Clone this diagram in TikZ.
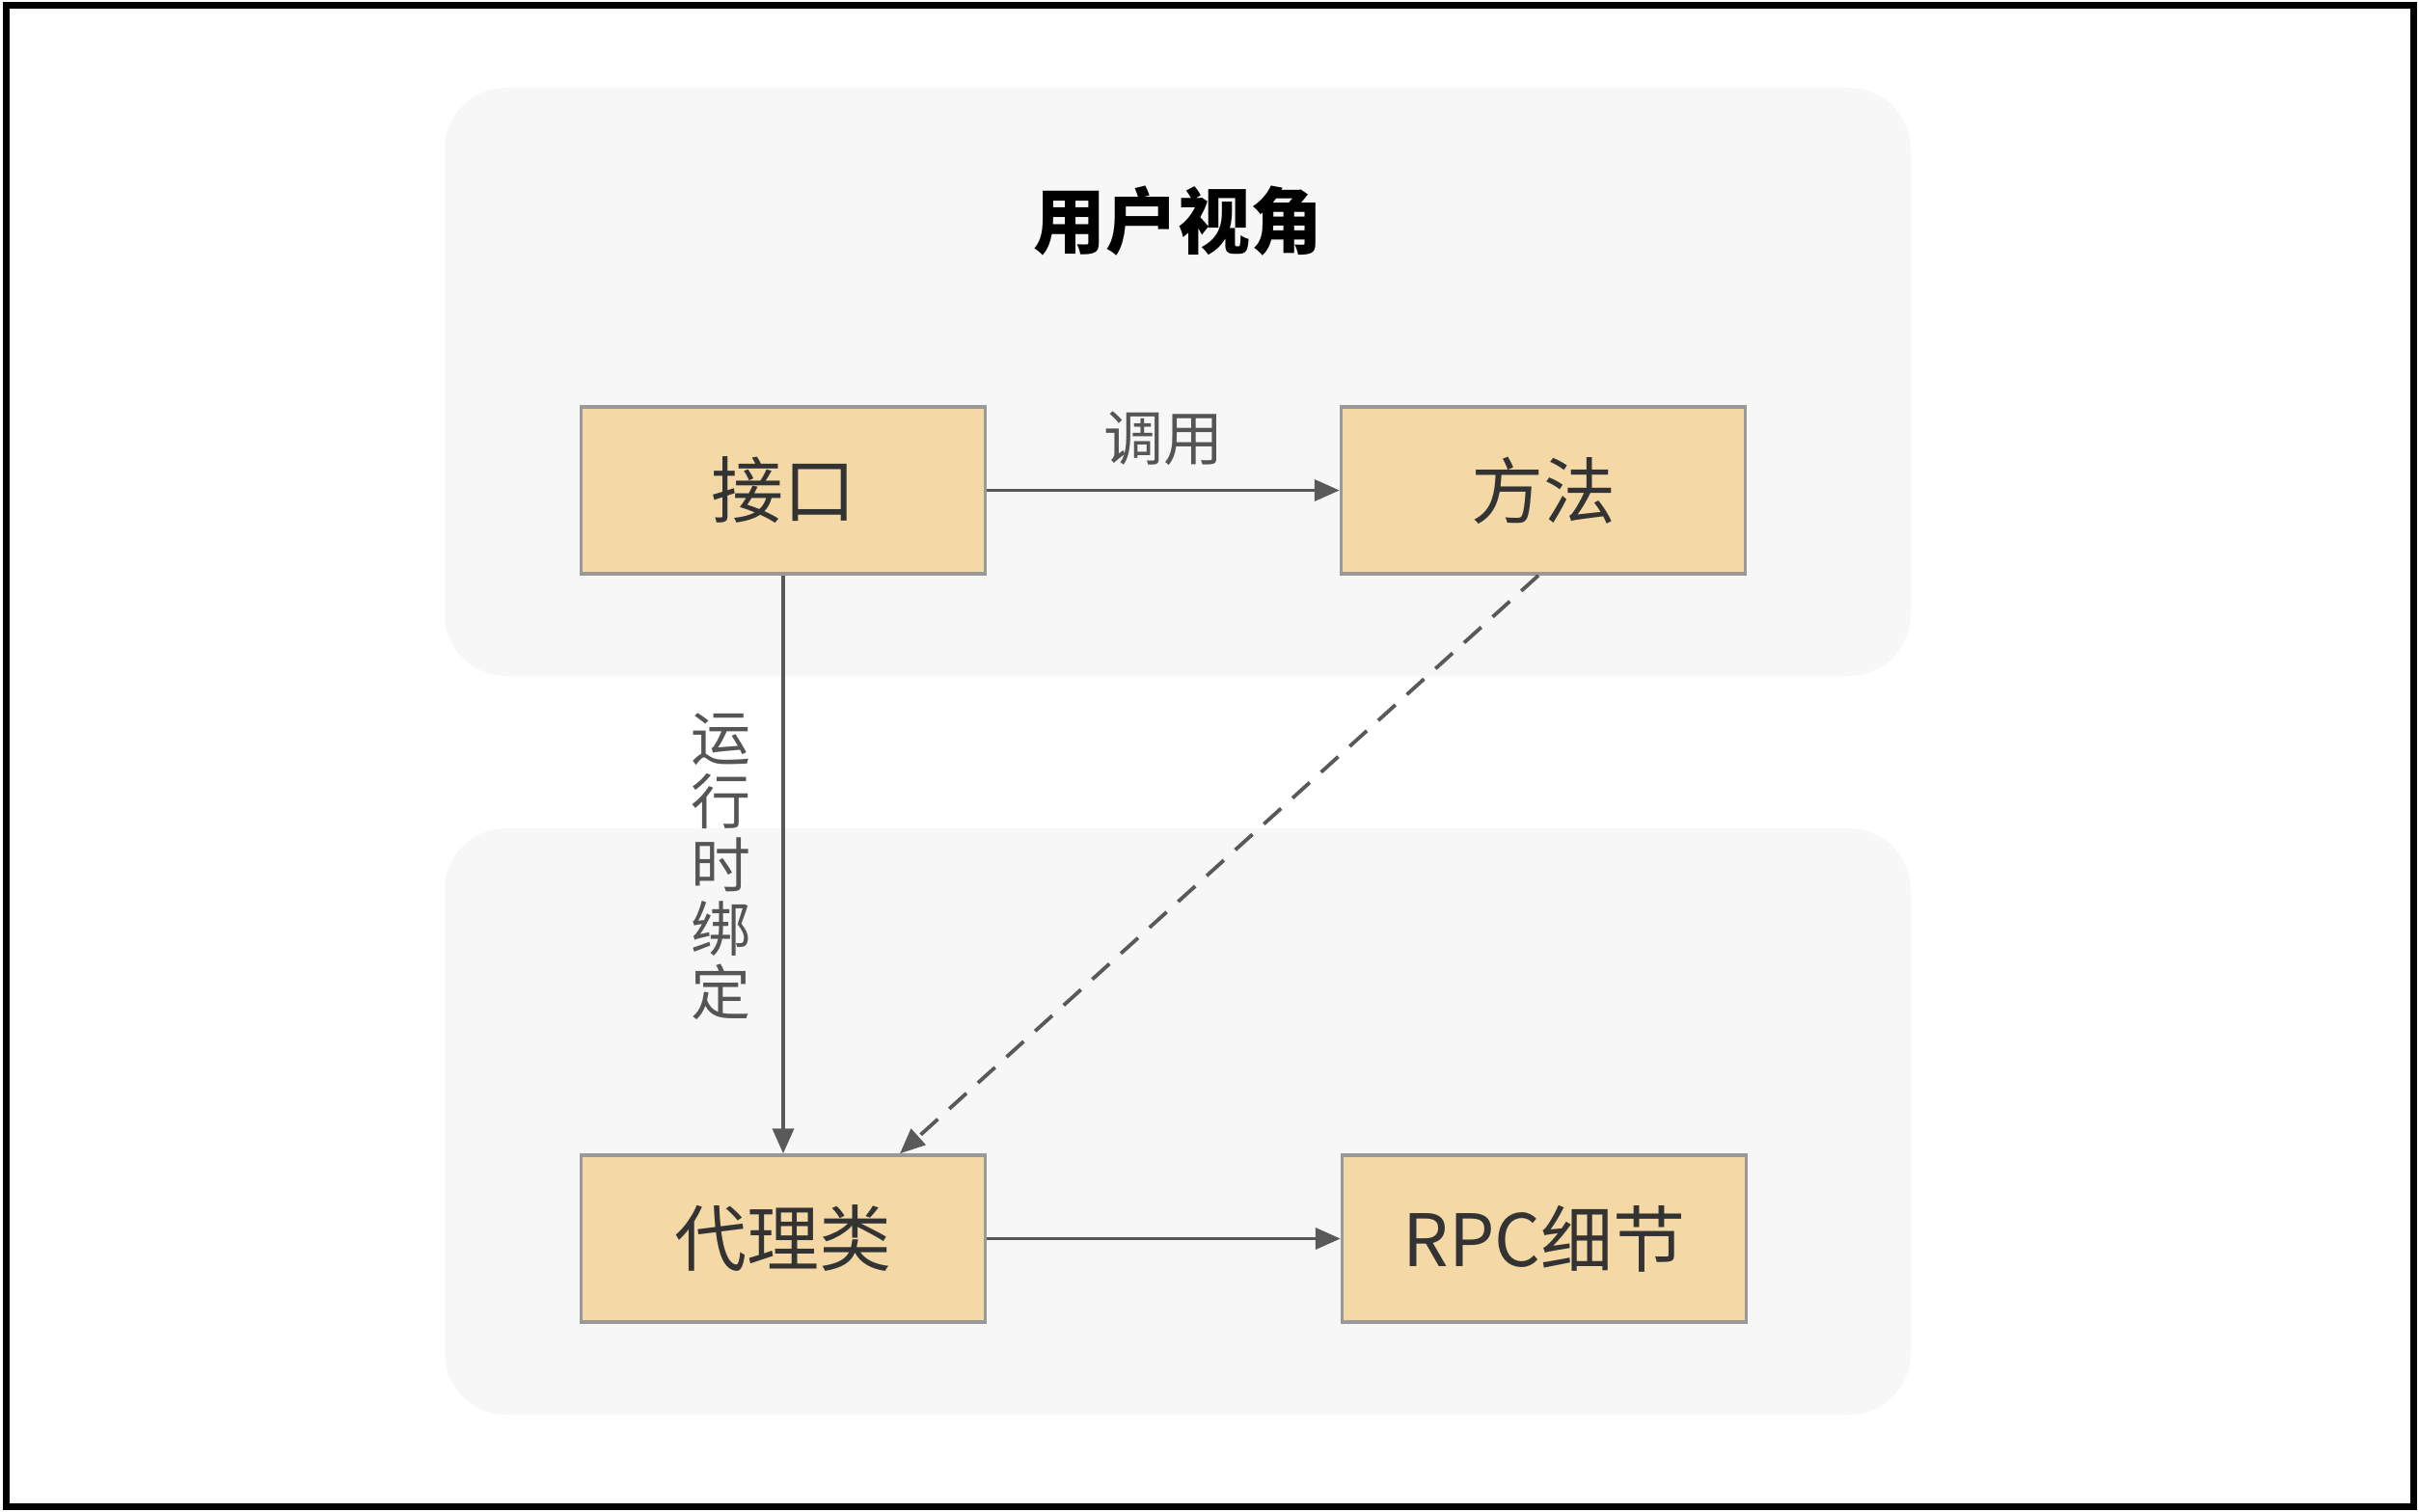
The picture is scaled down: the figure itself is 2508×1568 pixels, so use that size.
\documentclass[tikz,border=0pt]{standalone}
\usepackage{fontspec}
\setmainfont{Noto Sans CJK SC}
\usetikzlibrary{arrows.meta}
\definecolor{panelfill}{HTML}{F7F7F7}
\definecolor{boxfill}{HTML}{F4D9A6}
\definecolor{boxline}{HTML}{999999}
\definecolor{linecol}{HTML}{595959}
\definecolor{labcol}{HTML}{555555}
\definecolor{txtcol}{HTML}{333333}
\tikzset{
  panel/.style={fill=panelfill, draw=none, rounded corners=64pt},
  box/.style={draw=boxline, line width=3.5pt, fill=boxfill, minimum width=419pt, minimum height=173pt, inner sep=0pt, text=txtcol, font=\fontsize{75pt}{80pt}\selectfont},
  conn/.style={draw=linecol, line width=3.8pt, -{Triangle[length=26pt,width=22pt]}},
  dashconn/.style={conn, dash pattern=on 24pt off 16pt},
  lab/.style={text=labcol, font=\fontsize{62pt}{66pt}\selectfont, inner sep=0pt}
}
\begin{document}
\begin{tikzpicture}[x=1pt,y=-1pt]
\useasboundingbox (0,0) rectangle (2508,1568);
\fill[white] (0,0) rectangle (2508,1568);
\draw[black, line width=7pt] (6,6) rectangle (2502,1562);
\fill[panel] (461,91) rectangle (1981,701);
\fill[panel] (461,859) rectangle (1981,1467);
\node[font=\fontsize{75pt}{80pt}\selectfont\bfseries, inner sep=0pt] (title) at (1221,229) {用户视角};
\node[box] (jk) at (812,508.5) {接口};
\node[box] (ff) at (1600,508.5) {方法};
\node[box] (dl) at (812,1284.5) {代理类};
\node[box] (rpc) at (1601,1284.5) {RPC细节};
\draw[conn] (jk) -- node[lab, above=24pt] (dy) {调用} (ff);
\draw[conn] (jk.south) -- (dl.north);
\node[lab, align=center] (bind) at (747,899) {运\\行\\时\\绑\\定};
\coordinate (dlend) at ([xshift=121pt]dl.north);
\draw[dashconn] ([xshift=-5pt]ff.south) -- (dlend);
\draw[conn] (dl) -- (rpc);
\end{tikzpicture}
\end{document}
